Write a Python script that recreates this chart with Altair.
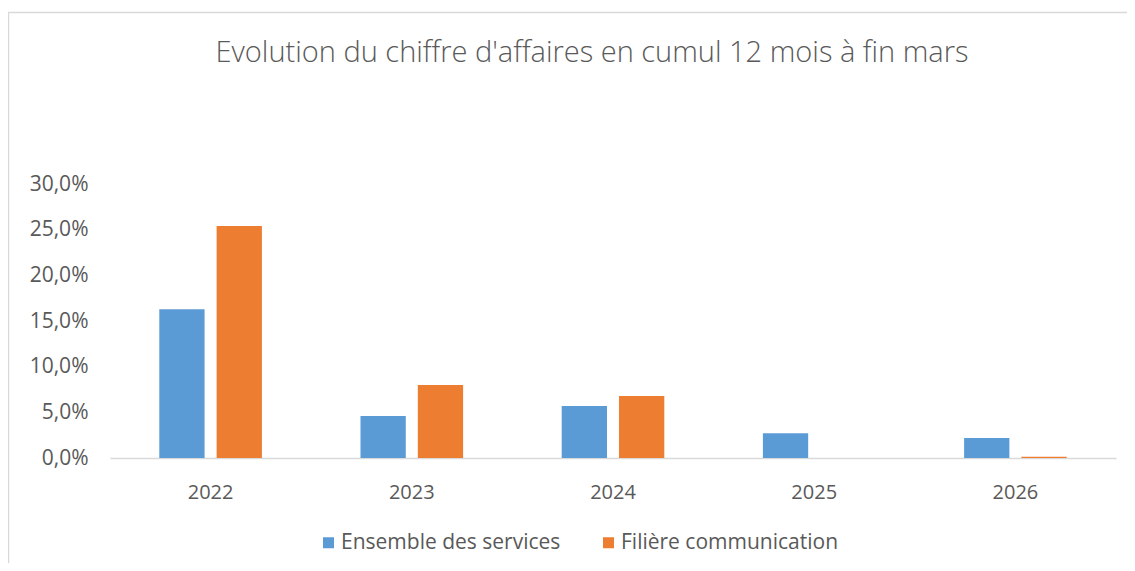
import altair as alt
import pandas as pd

years = ["2022", "2023", "2024", "2025", "2026"]
series = ["Ensemble des services", "Filière communication"]
ensemble = [0.163, 0.046, 0.057, 0.027, 0.022]
filiere = [0.254, 0.080, 0.068, 0.0, 0.0015]
colors = ["#5B9BD5", "#ED7D31"]
y_ticks = [0.0, 0.05, 0.10, 0.15, 0.20, 0.25, 0.30]
title_text = ["Evolution du chiffre d'affaires en cumul 12 mois  à fin mars"]

rows = []
for i, yr in enumerate(years):
    rows.append({"annee": yr, "serie": series[0], "valeur": ensemble[i]})
    rows.append({"annee": yr, "serie": series[1], "valeur": filiere[i]})
df = pd.DataFrame(rows)

W, H = 1006, 274
FONT = "Open Sans"
GREY = "#595959"

bars = alt.Chart(df).mark_bar().encode(
    x=alt.X(
        "annee:N", sort=years, title=None,
        scale=alt.Scale(paddingInner=0.49, paddingOuter=0.245),
        axis=alt.Axis(labelAngle=0, ticks=False, domainColor="#D9D9D9", domainWidth=1.5,
                      labelPadding=24, labelFontSize=20, labelColor=GREY, labelFont=FONT),
    ),
    xOffset=alt.XOffset("serie:N", sort=series,
                        scale=alt.Scale(paddingInner=0.21, paddingOuter=0)),
    y=alt.Y(
        "valeur:Q", title=None, scale=alt.Scale(domain=[0, 0.30]),
        axis=alt.Axis(values=y_ticks, labelExpr="replace(format(datum.value, '.1%'), '.', ',')",
                      grid=False, ticks=False, domain=False, labelPadding=22,
                      labelFontSize=21, labelColor=GREY, labelFont=FONT),
    ),
    color=alt.Color(
        "serie:N", scale=alt.Scale(domain=series, range=colors),
        legend=alt.Legend(orient="none", legendX=208, legendY=348, direction="horizontal",
                          title=None, symbolType="square", symbolSize=121, symbolStrokeWidth=0,
                          labelFontSize=21, labelFont=FONT, labelColor=GREY, labelLimit=0,
                          columnPadding=37, labelOffset=2),
    ),
)

frame_df = pd.DataFrame({"k": [0]})
frame_top = alt.Chart(frame_df).mark_rule(color="#D9D9D9", strokeWidth=1.5).encode(
    x=alt.value(-102), x2=alt.value(1030), y=alt.value(-171.5)
)
frame_left = alt.Chart(frame_df).mark_rule(color="#D9D9D9", strokeWidth=1.5).encode(
    x=alt.value(-101.5), y=alt.value(-172), y2=alt.value(400)
)

title_mark = alt.Chart(pd.DataFrame({"t": title_text})).mark_text(
    font=FONT, fontSize=29, fontWeight=300, color=GREY, align="center", baseline="middle"
).encode(text="t:N", x=alt.value(482), y=alt.value(-131))

chart = alt.layer(bars, frame_top, frame_left, title_mark).properties(
    width=W, height=H,
    autosize=alt.AutoSizeParams(type="none"),
    padding={"left": 102, "top": 176, "right": 11, "bottom": 105},
    background="white",
).configure_view(stroke=None)

chart.save("out.html", embed_options={"renderer": "svg", "actions": False})
